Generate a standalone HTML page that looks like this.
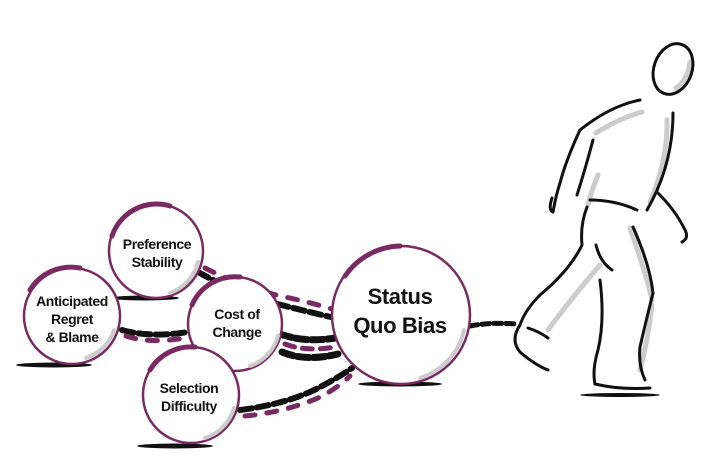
<!DOCTYPE html>
<html><head><meta charset="utf-8"><style>
html,body{margin:0;padding:0;background:#fff;}
svg{display:block;}
text{font-family:"Liberation Sans Narrow","Liberation Sans",sans-serif;font-weight:bold;fill:#111;text-anchor:middle;letter-spacing:-0.4px;}
</style></head><body>
<svg width="711" height="470" viewBox="0 0 711 470" xmlns="http://www.w3.org/2000/svg">
<g fill="#111">
<ellipse cx="145" cy="298" rx="34" ry="2.5"/>
<ellipse cx="54" cy="365" rx="38" ry="2.5"/>
<ellipse cx="175" cy="446" rx="38" ry="2.5"/>
<ellipse cx="400" cy="384" rx="42" ry="2.5"/>
<ellipse cx="620" cy="395" rx="40" ry="2"/>
</g>
<g fill="none" stroke-linecap="round">
<path d="M198 272 Q230 290 270 302 Q300 310 335 318" stroke="#111" stroke-width="6" stroke-dasharray="12 5"/>
<path d="M205 268 Q240 286 280 296 Q310 302 335 310" stroke="#7a2a62" stroke-width="5" stroke-dasharray="10 12"/>
<path d="M122 330 Q150 338 188 332" stroke="#111" stroke-width="6" stroke-dasharray="12 5"/>
<path d="M126 336 Q150 344 185 338" stroke="#7a2a62" stroke-width="5" stroke-dasharray="10 12"/>
<path d="M280 334 Q305 343 335 338" stroke="#111" stroke-width="7" stroke-dasharray="12 4"/>
<path d="M282 352 Q305 362 338 354" stroke="#111" stroke-width="7" stroke-dasharray="12 4"/>
<path d="M285 344 Q305 352 335 347" stroke="#7a2a62" stroke-width="5" stroke-dasharray="10 8"/>
<path d="M240 410 Q280 405 310 392 Q335 380 352 368" stroke="#111" stroke-width="6" stroke-dasharray="12 5"/>
<path d="M245 416 Q285 412 318 398 Q338 388 350 376" stroke="#7a2a62" stroke-width="5" stroke-dasharray="10 12"/>
<path d="M470 326 Q490 322 515 324" stroke="#111" stroke-width="5" stroke-dasharray="8 4"/>
</g>
<g fill="#fff">
<circle cx="156" cy="251" r="47" stroke="#7a2a62" stroke-width="2.5"/>
<circle cx="72" cy="316" r="48" stroke="#7a2a62" stroke-width="2.5"/>
<circle cx="235" cy="324" r="47" stroke="#7a2a62" stroke-width="2.5"/>
<circle cx="191" cy="395" r="48" stroke="#7a2a62" stroke-width="2.5"/>
<circle cx="401" cy="315" r="69" stroke="#7a2a62" stroke-width="2.5"/>
</g>
<g fill="none" stroke-linecap="round">
<path d="M112 236 A47 47 0 0 1 170 206" stroke="#7a2a62" stroke-width="5"/>
<path d="M30 290 A48 48 0 0 1 80 268" stroke="#7a2a62" stroke-width="5"/>
<path d="M192 305 A47 47 0 0 1 240 277" stroke="#7a2a62" stroke-width="5"/>
<path d="M150 370 A48 48 0 0 1 195 347" stroke="#7a2a62" stroke-width="5"/>
<path d="M345 276 A69 69 0 0 1 400 246" stroke="#7a2a62" stroke-width="5"/>
<path d="M198 262 A44 44 0 0 1 170 293" stroke="#ccc" stroke-width="4"/>
<path d="M114 330 A44 44 0 0 1 86 358" stroke="#ccc" stroke-width="4"/>
<path d="M278 336 A44 44 0 0 1 250 366" stroke="#ccc" stroke-width="4"/>
<path d="M234 408 A44 44 0 0 1 205 438" stroke="#ccc" stroke-width="4"/>
<path d="M464 330 A65 65 0 0 1 420 378" stroke="#ccc" stroke-width="4"/>
</g>
<text x="157" y="249" font-size="14">Preference</text>
<text x="157" y="267" font-size="14">Stability</text>
<text x="72" y="306" font-size="14">Anticipated</text>
<text x="72" y="324" font-size="14">Regret</text>
<text x="72" y="342" font-size="14">&amp; Blame</text>
<text x="237" y="319" font-size="14">Cost of</text>
<text x="237" y="337" font-size="14">Change</text>
<text x="189" y="393" font-size="14">Selection</text>
<text x="189" y="411" font-size="14">Difficulty</text>
<text x="400" y="304" font-size="22">Status</text>
<text x="400" y="333" font-size="22">Quo Bias</text>
<g fill="none" stroke-linecap="round" stroke-linejoin="round">
<g stroke="#ccc" stroke-width="5">
<path d="M690 62 Q688 80 676 88"/>
<path d="M596 133 Q620 118 642 112"/>
<path d="M667 120 Q668 160 650 202"/>
<path d="M598 175 Q590 195 588 205"/>
<path d="M630 228 Q648 280 652 300"/>
<path d="M600 265 Q570 300 548 330"/>
<path d="M652 305 Q648 340 640 370"/>
</g>
<g stroke="#111" stroke-width="3">
<ellipse cx="673" cy="69" rx="19" ry="26" transform="rotate(20 673 69)"/>
<path d="M580 130 Q610 106 640 100"/>
<path d="M580 130 Q566 160 560 183 Q556 195 553 212"/>
<path d="M553 212 Q548 210 552 198"/>
<path d="M593 140 Q585 170 577 195"/>
<path d="M673 113 Q673 165 647 210"/>
<path d="M658 193 Q675 210 684 228 Q690 238 682 242"/>
<path d="M590 200 Q615 200 637 210"/>
<path d="M587 207 Q580 225 582 245 Q570 270 540 295 Q525 310 520 325"/>
<path d="M596 245 Q600 262 612 270"/>
<path d="M633 227 Q650 265 653 293 Q645 325 640 347 Q638 365 645 380"/>
<path d="M600 280 Q605 320 598 350 Q592 370 595 384"/>
<path d="M520 325 Q510 340 520 352 Q535 365 548 370"/>
<path d="M528 328 Q540 332 548 338"/>
<path d="M595 384 Q620 390 650 388"/>
</g>
</g>
</svg>
</body></html>
